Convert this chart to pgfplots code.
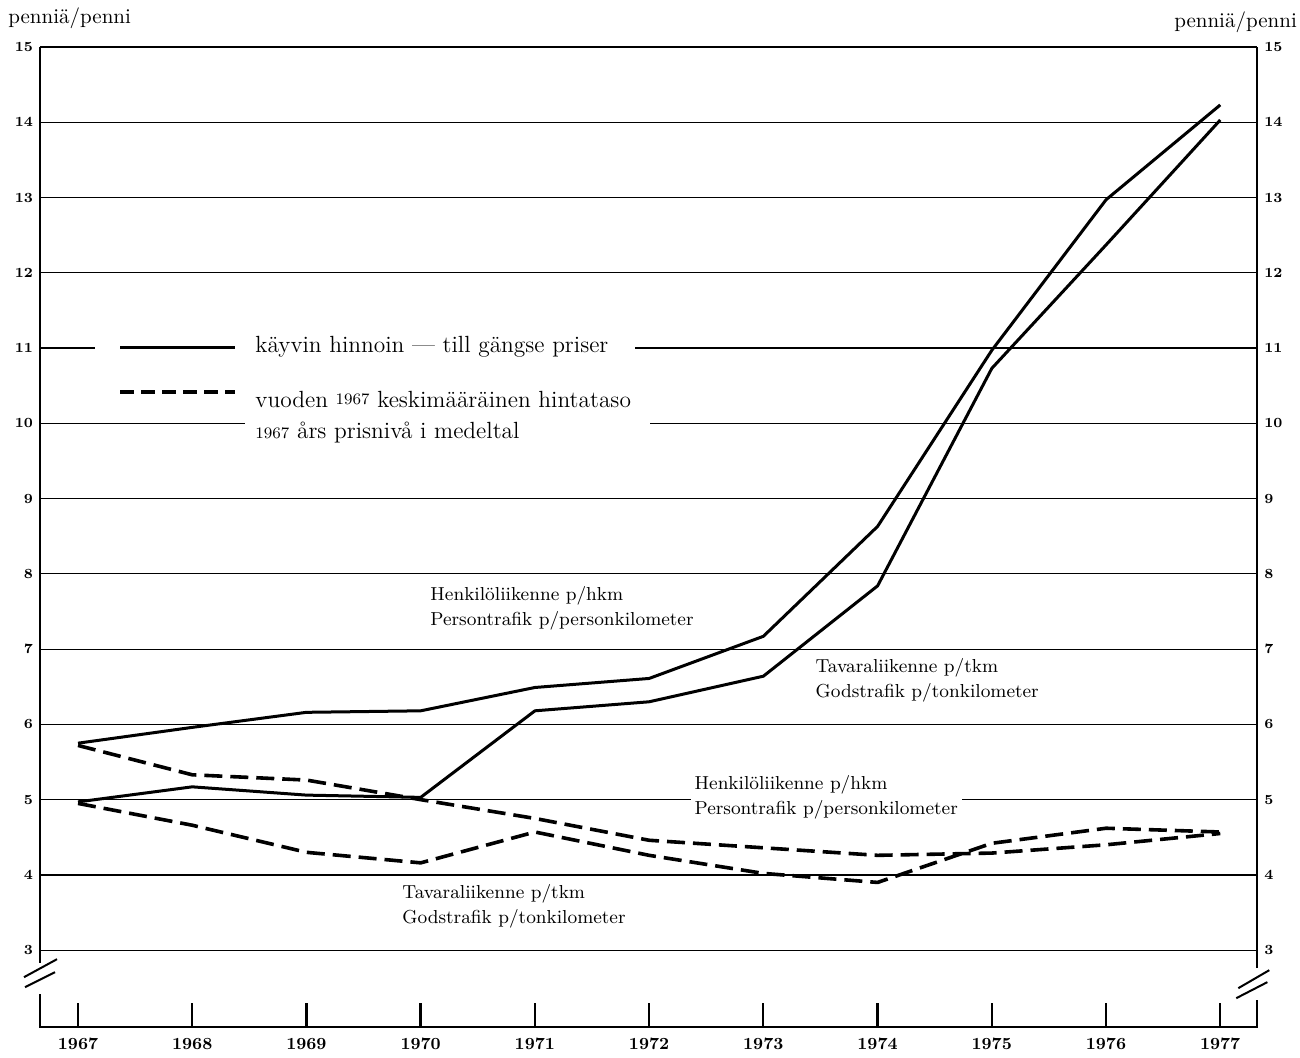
\documentclass[border=0pt]{standalone}
\usepackage{pgfplots}
\pgfplotsset{compat=1.18}
\begin{document}
\begin{tikzpicture}
\tikzset{
  solid curve/.style={black, line width=1.5pt, line join=round},
  dashed curve/.style={black, line width=1.8pt, line join=round, dash pattern=on 9pt off 4pt},
}
\pgfplotsset{
  common/.style={
    x=57.1pt, y=37.625pt,
    xmin=1966.667, xmax=1977.324, ymin=1.98, ymax=15,
    axis line style={draw=none},
    ytick={3,...,15},
    y tick style={draw=none},
    /pgf/number format/1000 sep={},
    /pgf/number format/assume math mode=true,
    yticklabel style={font=\scriptsize\bfseries},
  },
}
\begin{axis}[
  common,
  clip=false,
  xtick={1967,...,1977},
  xtick pos=left,
  ytick pos=left,
  tick align=inside,
  x tick style={black, line width=1.2pt},
  major tick length=12pt,
  ymajorgrids,
  grid style={black, line width=0.6pt},
  xticklabel style={font=\fontsize{8.5}{10}\selectfont\bfseries, yshift=-2pt},
]
% frame with axis breaks
\draw[line width=1.2pt] (axis cs:1966.667,15) -- (axis cs:1966.667,2.827);
\draw[line width=1.2pt] (axis cs:1966.667,2.415) -- (axis cs:1966.667,1.98)
   -- (axis cs:1977.324,1.98) -- (axis cs:1977.324,2.336);
\draw[line width=1.2pt] (axis cs:1977.324,2.761) -- (axis cs:1977.324,15);
\draw[line width=1pt] (axis cs:1966.527,2.641) -- (axis cs:1966.816,2.880);
\draw[line width=1pt] (axis cs:1966.536,2.508) -- (axis cs:1966.799,2.708);
\draw[line width=1pt] (axis cs:1977.158,2.495) -- (axis cs:1977.429,2.734);
\draw[line width=1pt] (axis cs:1977.140,2.362) -- (axis cs:1977.412,2.575);

% legend
\fill[white] (axis cs:1967.149,10.867) rectangle (axis cs:1971.877,11.133);
\fill[white] (axis cs:1968.462,9.711) rectangle (axis cs:1972.009,10.508);
\draw[solid curve] (axis cs:1967.368,11.013) -- (axis cs:1968.375,11.013);
\draw[dashed curve, dash pattern=on 7pt off 3.5pt] (axis cs:1967.368,10.415) -- (axis cs:1968.375,10.415);
\node[anchor=west, inner sep=0pt, font=\fontsize{11.7}{13}\selectfont]
  at (axis cs:1968.55,11.02) {käyvin hinnoin --- till gängse priser};
\node[anchor=west, inner sep=0pt, font=\fontsize{11.7}{13}\selectfont]
  at (axis cs:1968.55,10.31) {vuoden \raisebox{0.35ex}{\footnotesize 1967} keskimääräinen hintataso};
\node[anchor=west, inner sep=0pt, font=\fontsize{11.7}{13}\selectfont]
  at (axis cs:1968.55,9.88) {{\footnotesize 1967} års prisnivå i medeltal};

% curve labels
\node[anchor=west, align=left, inner sep=0pt, font=\fontsize{9.4}{12.5}\selectfont]
  at (axis cs:1970.082,7.545) {Henkilöliikenne p/hkm\\Persontrafik p/personkilometer};
\node[anchor=west, align=left, inner sep=0pt, font=\fontsize{9.4}{12.5}\selectfont]
  at (axis cs:1973.454,6.588) {Tavaraliikenne p/tkm\\Godstrafik p/tonkilometer};
\node[anchor=west, align=left, fill=white, inner sep=2pt, font=\fontsize{9.4}{12.5}\selectfont]
  at (axis cs:1972.36,5.033) {Henkilöliikenne p/hkm\\Persontrafik p/personkilometer};
\node[anchor=west, align=left, inner sep=0pt, font=\fontsize{9.4}{12.5}\selectfont]
  at (axis cs:1969.837,3.585) {Tavaraliikenne p/tkm\\Godstrafik p/tonkilometer};

% unit labels
\node[anchor=west, inner sep=0pt, font=\fontsize{10.5}{12}\selectfont] at (axis cs:1966.387,15.385) {penniä/penni};
\node[anchor=east, inner sep=0pt, font=\fontsize{10.5}{12}\selectfont] at (axis cs:1977.674,15.332) {penniä/penni};

% current prices
\addplot[solid curve] coordinates {
  (1967,5.75) (1968,5.96) (1969,6.16) (1970,6.18) (1971,6.49) (1972,6.61)
  (1973,7.17) (1974,8.63) (1975,10.97) (1976,12.97) (1977,14.23)};
\addplot[solid curve] coordinates {
  (1967,4.97) (1968,5.17) (1969,5.06) (1970,5.03) (1971,6.18) (1972,6.30)
  (1973,6.64) (1974,7.84) (1975,10.73) (1976,12.37) (1977,14.03)};
% 1967 price level
\addplot[dashed curve] coordinates {
  (1967,5.72) (1968,5.33) (1969,5.26) (1970,5.00) (1971,4.75) (1972,4.46)
  (1973,4.36) (1974,4.26) (1975,4.29) (1976,4.40) (1977,4.55)};
\addplot[dashed curve] coordinates {
  (1967,4.95) (1968,4.66) (1969,4.30) (1970,4.16) (1971,4.57) (1972,4.26)
  (1973,4.02) (1974,3.90) (1975,4.42) (1976,4.62) (1977,4.57)};

\coordinate (bbl) at (axis cs:1966.317,1.578);
\coordinate (btr) at (axis cs:1977.698,15.624);
\end{axis}
\begin{axis}[
  common,
  hide x axis,
  ytick pos=right,
  yticklabel pos=right,
]
\end{axis}
\pgfresetboundingbox
\path (bbl) rectangle (btr);
\end{tikzpicture}
\end{document}
